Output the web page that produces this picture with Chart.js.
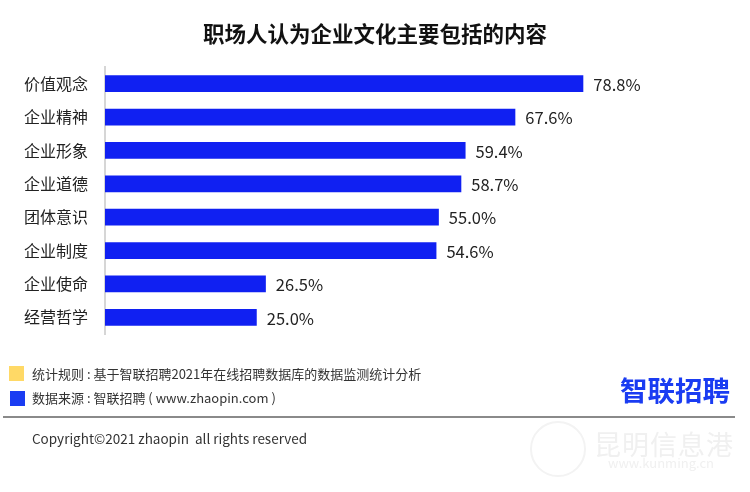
<!DOCTYPE html>
<html>
<head>
<meta charset="utf-8">
<script src="https://cdn.jsdelivr.net/npm/chart.js@4/dist/chart.umd.min.js"></script>
<style>
  html, body { margin: 0; padding: 0; background: #fff; }
  body { width: 750px; height: 492px; position: relative; overflow: hidden;
         font-family: "Noto Sans CJK SC", "Noto Sans", sans-serif; color: #222; }
  #wrap { position: absolute; left: 0; top: 0; width: 750px; height: 492px; }
  .abs { position: absolute; white-space: nowrap; }
  #title { left: 0; width: 750px; top: 19px; text-align: center; font-size: 21.5px; font-weight: bold; color: #111; line-height: 28px; }
  .sq { position: absolute; width: 15px; height: 15px; }
  .note { font-size: 13px; line-height: 16px; color: #333; }
  #logo { left: 620px; top: 372px; font-size: 27.5px; font-weight: bold; color: #1a3cf2; line-height: 34px; }
  #sep { left: 3px; top: 416px; width: 732px; height: 2px; background: #8a8a8a; }
  #copy { left: 32px; top: 430px; font-size: 13.5px; line-height: 17px; color: #333; }
  #wm1 { left: 594px; top: 428px; font-size: 27px; color: #f0f0f0; line-height: 32px; letter-spacing: 1px; }
  #wm2 { left: 608px; top: 455px; font-size: 13px; color: #f0f0f0; line-height: 16px; }
  #wmc { left: 530px; top: 421px; width: 52px; height: 52px; border: 2px solid #f3f3f3; border-radius: 50%; }
</style>
</head>
<body>
<div id="wrap"><canvas id="c"></canvas></div>
<div class="abs" id="title">职场人认为企业文化主要包括的内容</div>

<div class="sq" style="left:9px;top:366px;background:#ffd966;"></div>
<div class="abs note" style="left:32px;top:366px;">统计规则 : 基于智联招聘2021年在线招聘数据库的数据监测统计分析</div>
<div class="sq" style="left:10px;top:391px;background:#1a3cf2;"></div>
<div class="abs note" style="left:32px;top:390px;">数据来源 : 智联招聘 ( www.zhaopin.com )</div>

<div class="abs" id="logo">智联招聘</div>
<div class="abs" id="sep"></div>
<div class="abs" id="copy">Copyright©2021 zhaopin&nbsp;&nbsp;all rights reserved</div>

<div class="abs" id="wmc"></div>
<div class="abs" id="wm1">昆明信息港</div>
<div class="abs" id="wm2">www.kunming.cn</div>

<script>
// 各項目與百分比
var categories = ['价值观念', '企业精神', '企业形象', '企业道德', '团体意识', '企业制度', '企业使命', '经营哲学'];
var values = [78.8, 67.6, 59.4, 58.7, 55.0, 54.6, 26.5, 25.0];

var AXIS_LEFT = 105;

// 在長條右側標出數值
var valueLabels = {
  id: 'valueLabels',
  afterDatasetsDraw: function(chart) {
    var ctx = chart.ctx;
    var meta = chart.getDatasetMeta(0);
    ctx.save();
    ctx.font = '16.5px "Noto Sans CJK SC", "Noto Sans", sans-serif';
    ctx.fillStyle = '#222';
    ctx.textAlign = 'left';
    ctx.textBaseline = 'middle';
    meta.data.forEach(function(bar, i) {
      ctx.fillText(values[i].toFixed(1) + '%', bar.x + 10, bar.y + 1);
    });
    ctx.restore();
  }
};

new Chart(document.getElementById('c'), {
  type: 'bar',
  data: {
    labels: categories,
    datasets: [{
      data: values,
      backgroundColor: '#1020f2',
      borderWidth: 0,
      categoryPercentage: 1,
      barPercentage: 0.5
    }]
  },
  options: {
    indexAxis: 'y',
    responsive: true,
    maintainAspectRatio: false,
    animation: false,
    layout: { padding: { left: 0, right: 38, top: 67, bottom: 158 } },
    plugins: {
      legend: { display: false },
      tooltip: { enabled: false },
      title: { display: false }
    },
    scales: {
      x: { display: false, min: 0, max: 100 },
      y: {
        afterFit: function(scale) { scale.width = AXIS_LEFT; },
        grid: { display: false, drawTicks: false },
        border: { display: true, color: '#d6d6d6', width: 2 },
        ticks: {
          padding: 17,
          color: '#222',
          font: { size: 16, family: '"Noto Sans CJK SC", "Noto Sans", sans-serif' }
        }
      }
    }
  },
  plugins: [valueLabels]
});
</script>
</body>
</html>
